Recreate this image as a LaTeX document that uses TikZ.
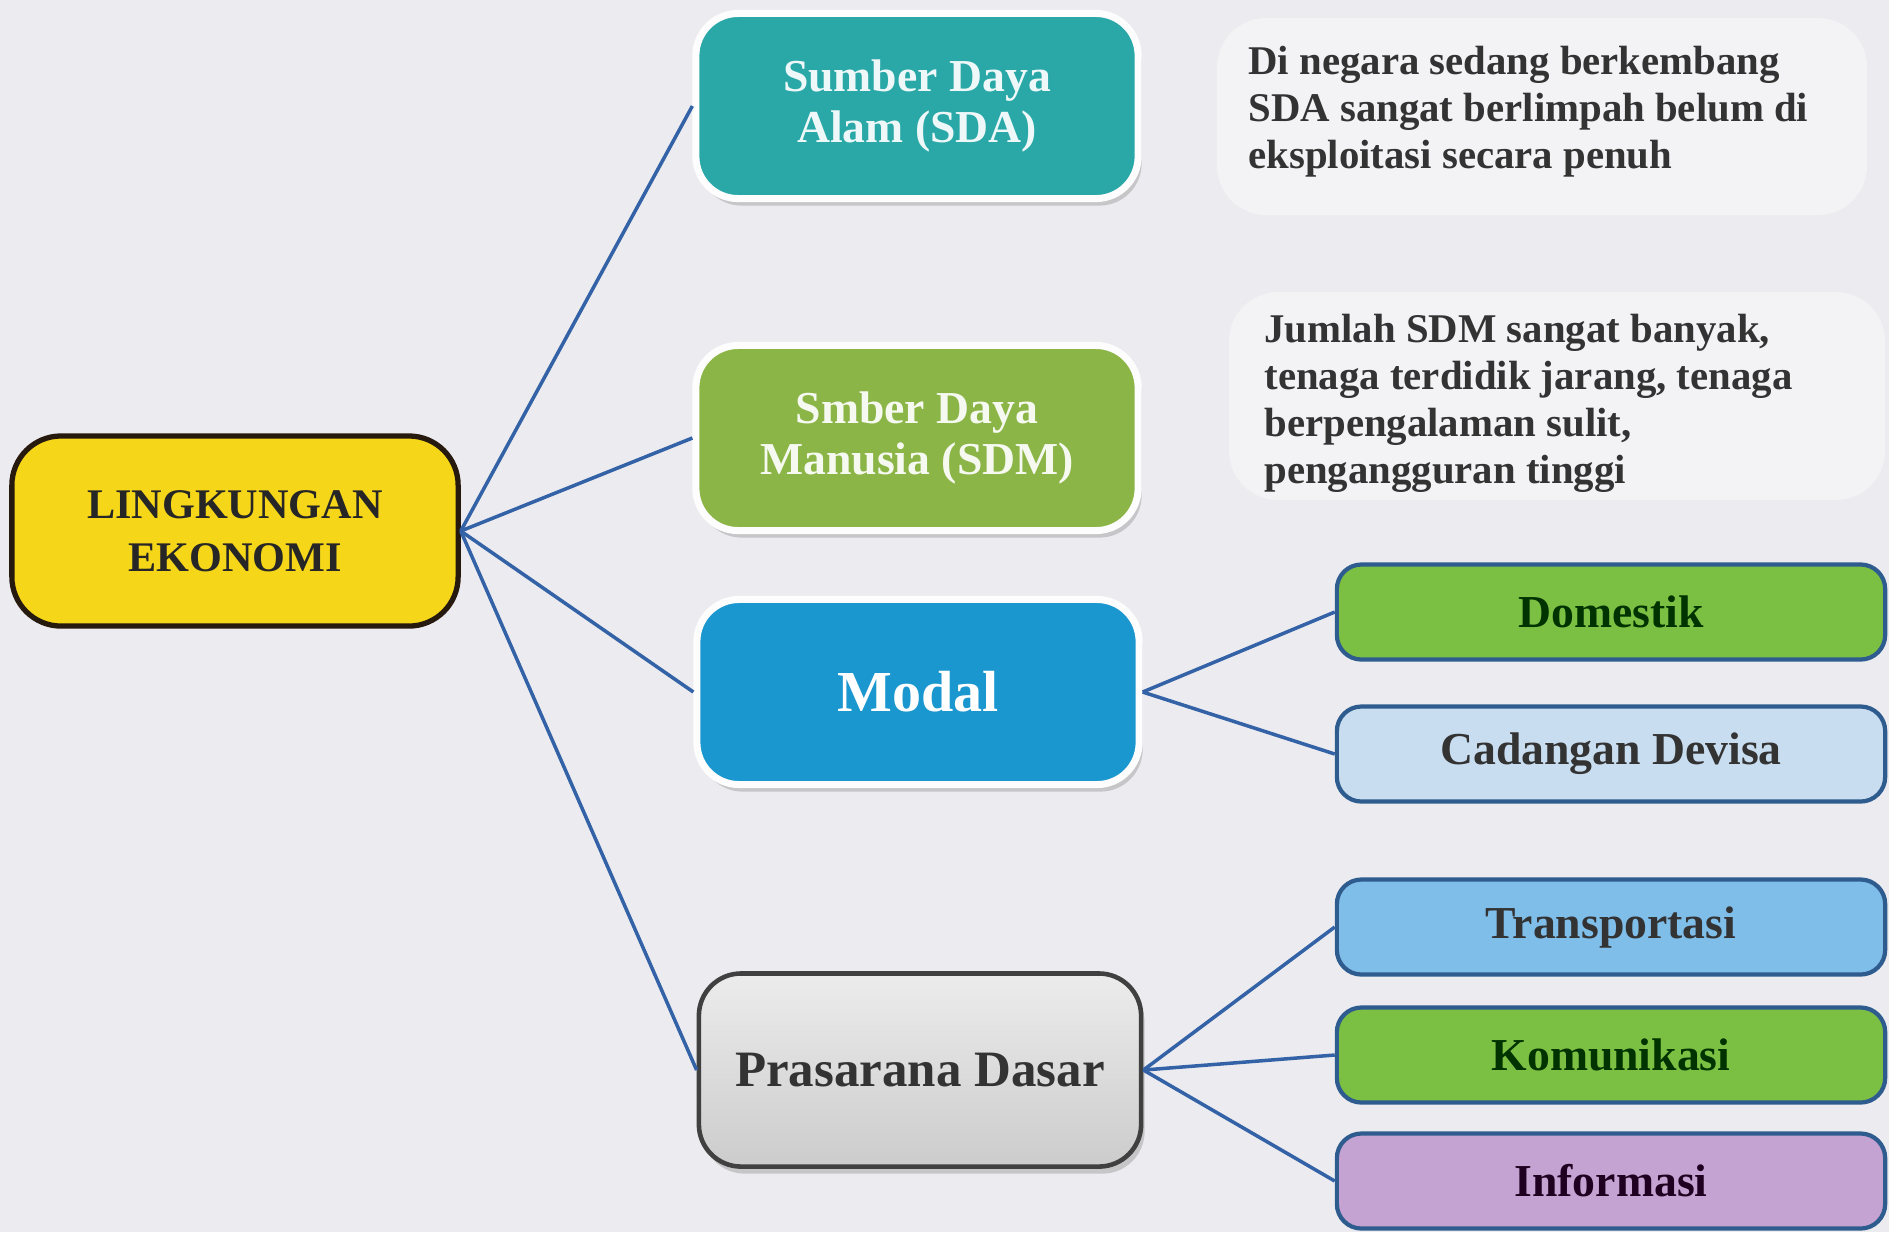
\documentclass[tikz,border=0pt]{standalone}
\usepackage{fontspec}
\setmainfont{Liberation Serif}
\usepackage{tikz}
\usetikzlibrary{shapes,arrows,shadows}

\definecolor{bgcol}{HTML}{ECECF0}
\definecolor{linecol}{HTML}{3462A6}
\definecolor{ekocol}{HTML}{F5D619}
\definecolor{sdacol}{HTML}{2AA8A8}
\definecolor{sdmcol}{HTML}{8CB547}
\definecolor{modcol}{HTML}{1B97CF}
\definecolor{grncol}{HTML}{7CC043}
\definecolor{cadcol}{HTML}{C9DDF0}
\definecolor{tracol}{HTML}{80BEEA}
\definecolor{infcol}{HTML}{C4A2D2}
\definecolor{bordcol}{HTML}{2F5C8F}

\begin{document}
\begin{tikzpicture}[x=0.01cm, y=-0.01cm]
  \tikzstyle{main} = [rectangle, rounded corners=12pt, minimum width=4.42cm, minimum height=1.85cm, text centered, align=center, draw=white!92!bgcol, line width=2pt, drop shadow={opacity=0.35, shadow xshift=1pt, shadow yshift=-2pt}, font=\bfseries\fontsize{13}{14.5}\selectfont]
  \tikzstyle{sub} = [rectangle, rounded corners=7pt, minimum width=5.48cm, minimum height=0.95cm, text centered, draw=bordcol, line width=1.2pt, font=\bfseries\fontsize{13}{15}\selectfont, text=black!80]
  \tikzstyle{note} = [anchor=north west, align=left, text=black!80, font=\bfseries\fontsize{11.6}{13.3}\selectfont]
  \tikzstyle{link} = [draw=linecol, line width=1pt]

  \useasboundingbox [fill=bgcol] (0,0) rectangle (1889,1232);
  \fill [white!35!bgcol, rounded corners=14pt] (1217,18) rectangle (1867,215);
  \fill [white!35!bgcol, rounded corners=14pt] (1229,292) rectangle (1885,500);

  \node (eko) [rectangle, rounded corners=14pt, minimum width=4.46cm, minimum height=1.9cm, align=center, draw=black!80!brown, line width=1.5pt, fill=ekocol, text=black!85, font=\bfseries\fontsize{12}{15}\selectfont] at (235,531) {LINGKUNGAN\\EKONOMI};

  \node (sda) [main, fill=sdacol, text=white!92!sdacol] at (917,106) {Sumber Daya\\Alam (SDA)};
  \node (sdm) [main, fill=sdmcol, text=white!92!sdmcol] at (917,438) {Smber Daya\\Manusia (SDM)};
  \node (modal) [main, fill=modcol, text=white, font=\bfseries\fontsize{16.5}{20}\selectfont] at (918,692) {Modal};
  \node (pras) [main, draw=black!75, line width=1.3pt, top color=white!85!gray, bottom color=gray!40, text=black!80, font=\bfseries\fontsize{14.5}{18}\selectfont, minimum height=1.93cm] at (920,1070) {Prasarana Dasar};

  \node (dom) [sub, fill=grncol, text=black!80!green] at (1611,612) {Domestik};
  \node (cad) [sub, fill=cadcol] at (1611,754) {Cadangan Devisa};
  \node (tra) [sub, fill=tracol] at (1611,927) {Transportasi};
  \node (kom) [sub, fill=grncol, text=black!80!green] at (1611,1055) {Komunikasi};
  \node (inf) [sub, fill=infcol, text=black!75!violet] at (1611,1181) {Informasi};

  \node (sdanote) [note] at (1236,34) {Di negara sedang berkembang\\SDA sangat berlimpah belum di\\eksploitasi secara penuh};
  \node (sdmnote) [note] at (1252,302) {Jumlah SDM sangat banyak,\\tenaga terdidik jarang, tenaga\\berpengalaman sulit,\\pengangguran tinggi};

  \draw [link] (eko.east) -- (sda.west);
  \draw [link] (eko.east) -- (sdm.west);
  \draw [link] (eko.east) -- (modal.west);
  \draw [link] (eko.east) -- (pras.west);
  \draw [link] (modal.east) -- (dom.west);
  \draw [link] (modal.east) -- (cad.west);
  \draw [link] (pras.east) -- (tra.west);
  \draw [link] (pras.east) -- (kom.west);
  \draw [link] (pras.east) -- (inf.west);
\end{tikzpicture}
\end{document}
